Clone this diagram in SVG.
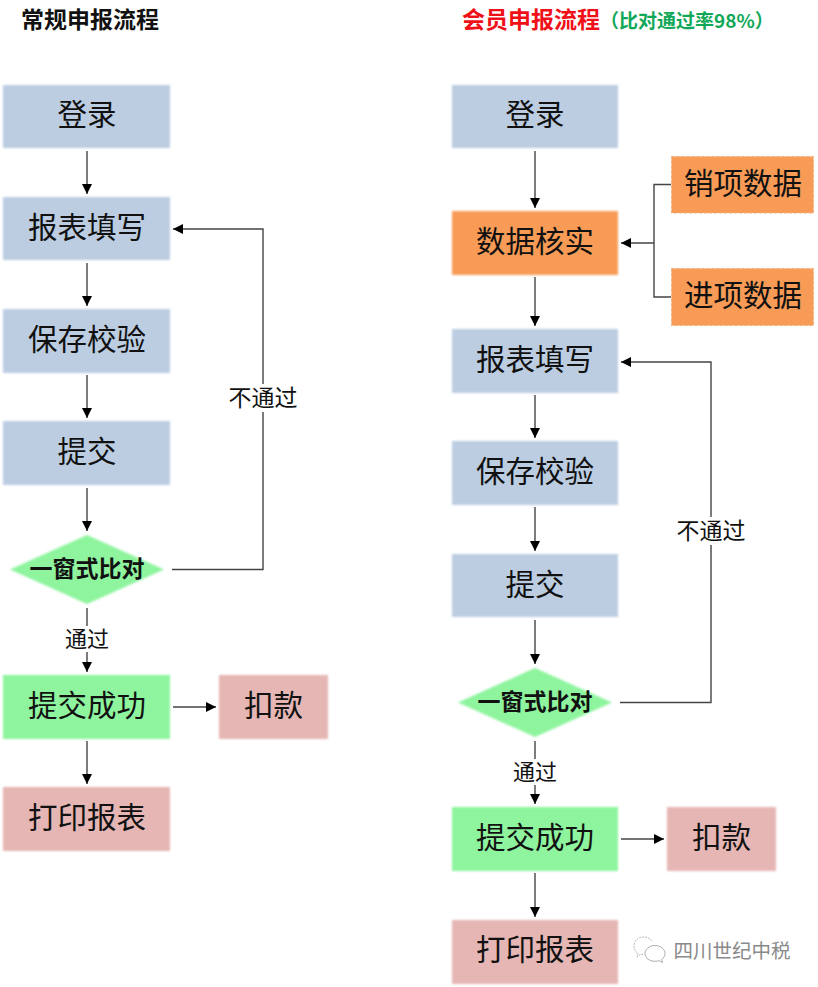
<svg xmlns="http://www.w3.org/2000/svg" width="818" height="987" viewBox="0 0 818 987">
<style>
text{font-family:"Noto Sans CJK SC","Liberation Sans",sans-serif;text-anchor:middle;fill:#111}
.t{font-size:29.5px}
.b{font-size:23px;font-weight:700}
.l{font-size:23px}
.m{font-size:22px}
.h{font-size:23px;font-weight:700;text-anchor:start}
.c{fill:none;stroke:#444;stroke-width:1.4}
.blue{fill:#bccde2}.org{fill:#f79b56}.grn{fill:#8ef49e}.pink{fill:#e5b6b4}
.dash{stroke:#f0b080;stroke-width:1;stroke-dasharray:3 2}
</style>
<defs>
<filter id="s" x="-5%" y="-5%" width="110%" height="110%"><feGaussianBlur stdDeviation="0.8"/></filter>
<marker id="a" viewBox="0 0 10 10" refX="10" refY="5" markerWidth="10" markerHeight="10" markerUnits="userSpaceOnUse" orient="auto"><path d="M0 0L10 5L0 10z" fill="#000"/></marker>
</defs>
<rect width="818" height="987" fill="#fff"/>
<text id="title-left" class="h" x="21" y="28">常规申报流程</text>
<text id="title-right" class="h" x="462" y="28" style="fill:#f01018">会员申报流程<tspan style="fill:#10a858;font-size:19px">（比对通过率98%）</tspan></text>
<g id="connectors" class="c">
<path class="c" marker-end="url(#a)" d="M87 151V194"/>
<path class="c" marker-end="url(#a)" d="M87 263V306"/>
<path class="c" marker-end="url(#a)" d="M87 375V418"/>
<path class="c" marker-end="url(#a)" d="M87 488V531"/>
<path class="c" marker-end="url(#a)" d="M87 608V672"/>
<path class="c" marker-end="url(#a)" d="M173 707H216"/>
<path class="c" marker-end="url(#a)" d="M87 741V784"/>
<path class="c" marker-end="url(#a)" d="M172 569.500H263V229H173"/>
<path class="c" marker-end="url(#a)" d="M535 151V208"/>
<path class="c" marker-end="url(#a)" d="M535 277V326"/>
<path class="c" marker-end="url(#a)" d="M535 395V438"/>
<path class="c" marker-end="url(#a)" d="M535 507V551"/>
<path class="c" marker-end="url(#a)" d="M535 620V664"/>
<path class="c" marker-end="url(#a)" d="M535 741V804"/>
<path class="c" marker-end="url(#a)" d="M621 839H664"/>
<path class="c" marker-end="url(#a)" d="M535 873V917"/>
<path class="c" marker-end="url(#a)" d="M620 702.500H711V362H621"/>
<path class="c" d="M671 184.500H654V297H671"/>
<path class="c" marker-end="url(#a)" d="M654 243H621"/>
</g>
<g id="l-login"><rect class="blue" filter="url(#s)" x="3" y="85" width="167" height="63"/><text class="t" x="87" y="125">登录</text></g>
<g id="l-fill"><rect class="blue" filter="url(#s)" x="3" y="197" width="167" height="63"/><text class="t" x="87" y="238">报表填写</text></g>
<g id="l-save"><rect class="blue" filter="url(#s)" x="3" y="309" width="167" height="64"/><text class="t" x="87" y="350">保存校验</text></g>
<g id="l-submit"><rect class="blue" filter="url(#s)" x="3" y="421" width="167" height="64"/><text class="t" x="87" y="462">提交</text></g>
<g id="l-check"><path class="grn" filter="url(#s)" d="M87 535L164 569.500L87 604L10 569.500z"/><text class="b" x="87" y="577">一窗式比对</text></g>
<g id="l-ok"><rect class="grn" filter="url(#s)" x="3" y="675" width="167" height="64"/><text class="t" x="87" y="716">提交成功</text></g>
<g id="l-pay"><rect class="pink" filter="url(#s)" x="219" y="675" width="109" height="64"/><text class="t" x="273.500" y="716">扣款</text></g>
<g id="l-print"><rect class="pink" filter="url(#s)" x="3" y="787" width="167" height="64"/><text class="t" x="87" y="828">打印报表</text></g>
<g id="l-labels">
<rect x="226" y="384" width="74" height="28" fill="#fff"/><text class="l" x="263" y="406">不通过</text>
<rect x="62" y="626" width="50" height="26" fill="#fff"/><text class="m" x="87" y="647">通过</text>
</g>
<g id="r-login"><rect class="blue" filter="url(#s)" x="452" y="85" width="166" height="63"/><text class="t" x="535" y="125">登录</text></g>
<g id="r-verify"><rect class="org" filter="url(#s)" x="452" y="211" width="166" height="64"/><text class="t" x="535" y="252">数据核实</text></g>
<g id="r-sales"><rect class="org dash" x="671.500" y="156.500" width="142" height="56.500"/><text class="t" x="743" y="194">销项数据</text></g>
<g id="r-input"><rect class="org dash" x="671.500" y="268.500" width="142" height="57"/><text class="t" x="743" y="306">进项数据</text></g>
<g id="r-fill"><rect class="blue" filter="url(#s)" x="452" y="329" width="166" height="64"/><text class="t" x="535" y="370">报表填写</text></g>
<g id="r-save"><rect class="blue" filter="url(#s)" x="452" y="441" width="166" height="64"/><text class="t" x="535" y="482">保存校验</text></g>
<g id="r-submit"><rect class="blue" filter="url(#s)" x="452" y="554" width="166" height="63"/><text class="t" x="535" y="595">提交</text></g>
<g id="r-check"><path class="grn" filter="url(#s)" d="M535 668L612 702.500L535 737L458 702.500z"/><text class="b" x="535" y="710">一窗式比对</text></g>
<g id="r-ok"><rect class="grn" filter="url(#s)" x="452" y="807" width="166" height="64"/><text class="t" x="535" y="848">提交成功</text></g>
<g id="r-pay"><rect class="pink" filter="url(#s)" x="667" y="807" width="109" height="64"/><text class="t" x="721.500" y="848">扣款</text></g>
<g id="r-print"><rect class="pink" filter="url(#s)" x="452" y="920" width="166" height="64"/><text class="t" x="535" y="960">打印报表</text></g>
<g id="r-labels">
<rect x="674" y="517" width="74" height="28" fill="#fff"/><text class="l" x="711" y="539">不通过</text>
<rect x="510" y="759" width="50" height="26" fill="#fff"/><text class="m" x="535" y="780">通过</text>
</g>
<g id="watermark">
<path d="M652 941c-2-3-6-4-9-4c-5 0-9 4-9 9c0 3 1 6 4 7l-1 4l4-3l3 1" fill="none" stroke="#aaa" stroke-width="0.8" stroke-dasharray="2 1"/>
<path d="M655 945.500c5.500 0 10 3.600 10 8c0 2.500-1.300 4.500-3.300 6l.8 3l-3.500-1.800c-1.300.4-2.600.6-4 .6c-5.500 0-10-3.400-10-7.800s4.500-8 10-8z" fill="#fff" stroke="#999" stroke-width="0.8"/>
<text x="732" y="958" style="font-size:19.500px;fill:#8a8a8a">四川世纪中税</text>
</g>
</svg>
